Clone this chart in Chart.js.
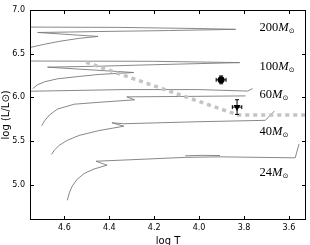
<!DOCTYPE html>
<html><head><meta charset="utf-8">
<script src="https://cdn.jsdelivr.net/npm/chart.js@4/dist/chart.umd.min.js"></script>
<style>html,body{margin:0;padding:0;background:#fff}#wrap{width:310px;height:245px}</style>
</head><body><div id="wrap"><canvas id="c" width="310" height="245"></canvas></div>
<script>
// ---- data (log T, log L/Lsun) ----
const xTicks = [4.6, 4.4, 4.2, 4.0, 3.8, 3.6];
const yTicks = [5.0, 5.5, 6.0, 6.5, 7.0];

const t200a = [4.78, 4.357, 4.004, 3.837];
const l200a = [6.803, 6.799, 6.786, 6.777];
const t200b = [4.776, 4.756, 4.688, 4.622, 4.534, 4.450, 4.719, 4.578, 4.446, 4.137, 3.837];
const l200b = [6.557, 6.568, 6.607, 6.640, 6.674, 6.696, 6.741, 6.746, 6.752, 6.763, 6.777];

const t100a = [4.78, 4.203, 3.819];
const l100a = [6.415, 6.412, 6.397];
const t100b = [4.741, 4.719, 4.688, 4.631, 4.534, 4.446, 4.291, 4.675, 4.446, 4.203, 3.819];
const l100b = [6.100, 6.145, 6.178, 6.212, 6.239, 6.262, 6.284, 6.345, 6.356, 6.373, 6.397];

const t60a = [4.78, 4.335, 4.004, 3.784, 3.762];
const l60a = [6.069, 6.089, 6.089, 6.072, 6.100];
const t60b = [4.701, 4.688, 4.666, 4.631, 4.556, 4.446, 4.287, 4.322, 4.049, 3.793];
const l60b = [5.677, 5.733, 5.800, 5.866, 5.922, 5.944, 5.972, 6.006, 6.011, 6.017];

const t40 = [4.657, 4.644, 4.622, 4.587, 4.534, 4.446, 4.335, 4.388, 4.335, 4.004, 3.705, 3.665];
const l40 = [5.349, 5.399, 5.454, 5.510, 5.566, 5.621, 5.671, 5.710, 5.699, 5.722, 5.738, 5.844];

const t24 = [4.587, 4.578, 4.565, 4.543, 4.512, 4.468, 4.410, 4.459, 4.313, 4.062, 3.907, 3.572, 3.555];
const l24 = [4.825, 4.909, 4.987, 5.065, 5.131, 5.182, 5.226, 5.271, 5.287, 5.315, 5.321, 5.310, 5.469];
const t24loop = [4.062, 3.985, 3.907];
const l24loop = [5.333, 5.338, 5.336];

const tLimit = [4.503, 3.828, 3.45];
const lLimit = [6.401, 5.800, 5.800];

const starT = [3.902, 3.831];
const starL = [6.200, 5.889];
const starTErr = [0.022, 0.021];
const starLErr = [0.045, 0.084];

const massNames = ['200', '100', '60', '40', '24'];
const labelT = 3.731;
const labelL = [6.760, 6.313, 5.995, 5.568, 5.102];

// ---- build ----
const pts = (t, l) => t.map((v, i) => ({x: v, y: l[i]}));
const trackStyle = {showLine: true, pointRadius: 0, borderColor: '#7a7a7a', borderWidth: 0.9, fill: false, tension: 0};
const tracks = [[t200a,l200a],[t200b,l200b],[t100a,l100a],[t100b,l100b],[t60a,l60a],[t60b,l60b],[t40,l40],[t24,l24],[t24loop,l24loop]]
  .map(([t,l]) => Object.assign({data: pts(t,l)}, trackStyle));

const deco = {
  id: 'deco',
  afterDatasetsDraw(chart) {
    const {ctx, chartArea: a, scales: {x, y}} = chart;
    ctx.save();
    // error bars
    ctx.strokeStyle = '#000'; ctx.lineWidth = 1;
    starT.forEach((t, i) => {
      const px = x.getPixelForValue(t), py = y.getPixelForValue(starL[i]);
      const x1 = x.getPixelForValue(t + starTErr[i]), x2 = x.getPixelForValue(t - starTErr[i]);
      const y1 = y.getPixelForValue(starL[i] + starLErr[i]), y2 = y.getPixelForValue(starL[i] - starLErr[i]);
      ctx.beginPath();
      ctx.moveTo(x1, py); ctx.lineTo(x2, py);
      ctx.moveTo(px, y1); ctx.lineTo(px, y2);
      ctx.moveTo(x1, py - 2); ctx.lineTo(x1, py + 2);
      ctx.moveTo(x2, py - 2); ctx.lineTo(x2, py + 2);
      ctx.moveTo(px - 2, y1); ctx.lineTo(px + 2, y1);
      ctx.moveTo(px - 2, y2); ctx.lineTo(px + 2, y2);
      ctx.stroke();
    });
    // frame
    const L = Math.round(a.left), R = Math.round(a.right), T = Math.round(a.top), B = Math.round(a.bottom);
    ctx.strokeRect(L + 0.5, T + 0.5, R - L - 1, B - T - 1);
    ctx.beginPath();
    xTicks.forEach(v => {
      const p = Math.round(x.getPixelForValue(v)) + 0.5;
      ctx.moveTo(p, B); ctx.lineTo(p, B - 4);
      ctx.moveTo(p, T); ctx.lineTo(p, T + 4);
    });
    yTicks.forEach(v => {
      const p = Math.round(y.getPixelForValue(v)) + 0.5;
      ctx.moveTo(L, p); ctx.lineTo(L + 4, p);
      ctx.moveTo(R, p); ctx.lineTo(R - 4, p);
    });
    ctx.stroke();
    // mass labels
    ctx.fillStyle = '#000';
    ctx.textBaseline = 'alphabetic'; ctx.textAlign = 'left';
    massNames.forEach((m, i) => {
      let px = x.getPixelForValue(labelT), py = y.getPixelForValue(labelL[i]);
      ctx.font = '12.5px "Liberation Serif", serif';
      ctx.fillText(m, px, py); px += ctx.measureText(m).width;
      ctx.font = 'italic 12.5px "Liberation Serif", serif';
      ctx.fillText('M', px, py); px += ctx.measureText('M').width;
      ctx.font = '7px "DejaVu Sans", sans-serif';
      ctx.fillText('\u2299', px, py + 2);
    });
    // axis titles
    ctx.font = '10px "DejaVu Sans", sans-serif';
    ctx.textAlign = 'center';
    ctx.fillText('log T', (a.left + a.right) / 2, 243.5);
    ctx.translate(9, (a.top + a.bottom) / 2);
    ctx.rotate(-Math.PI / 2);
    ctx.fillText('log (L/L\u2299)', 0, 0);
    ctx.restore();
  }
};

const tickFont = {family: '"DejaVu Sans", sans-serif', size: 8};
new Chart(document.getElementById('c'), {
  type: 'scatter',
  data: {datasets: [
    {data: pts(starT, starL), pointStyle: ['circle', 'triangle'], rotation: [0, 180], pointRadius: [3.5, 4],
     backgroundColor: '#000', borderColor: '#000', borderWidth: 0, showLine: false},
    {data: pts(tLimit, lLimit), showLine: true, pointRadius: 0, borderColor: '#c4c4c4', borderWidth: 3.5, borderDash: [4, 4], fill: false},
    ...tracks
  ]},
  options: {
    responsive: false, animation: false, devicePixelRatio: 1,
    layout: {padding: {top: 5, right: 1, left: 0, bottom: 0}},
    plugins: {legend: {display: false}, tooltip: {enabled: false}},
    scales: {
      x: {type: 'linear', position: 'bottom', min: 3.524, max: 4.753, reverse: true,
          afterFit: s => { s.height = 25; },
          afterBuildTicks: s => { s.ticks = xTicks.map(v => ({value: v})); },
          grid: {display: false, drawTicks: false, tickLength: 0}, border: {display: false},
          ticks: {font: tickFont, color: '#000', padding: 3, maxRotation: 0, autoSkip: false, callback: v => v.toFixed(1)}},
      y: {type: 'linear', position: 'left', min: 4.6, max: 7.0,
          afterFit: s => { s.width = 30; },
          afterBuildTicks: s => { s.ticks = yTicks.map(v => ({value: v})); },
          grid: {display: false, drawTicks: false, tickLength: 0}, border: {display: false},
          ticks: {font: tickFont, color: '#000', padding: 5, autoSkip: false, callback: v => v.toFixed(1)}}
    }
  },
  plugins: [deco]
});
</script></body></html>
